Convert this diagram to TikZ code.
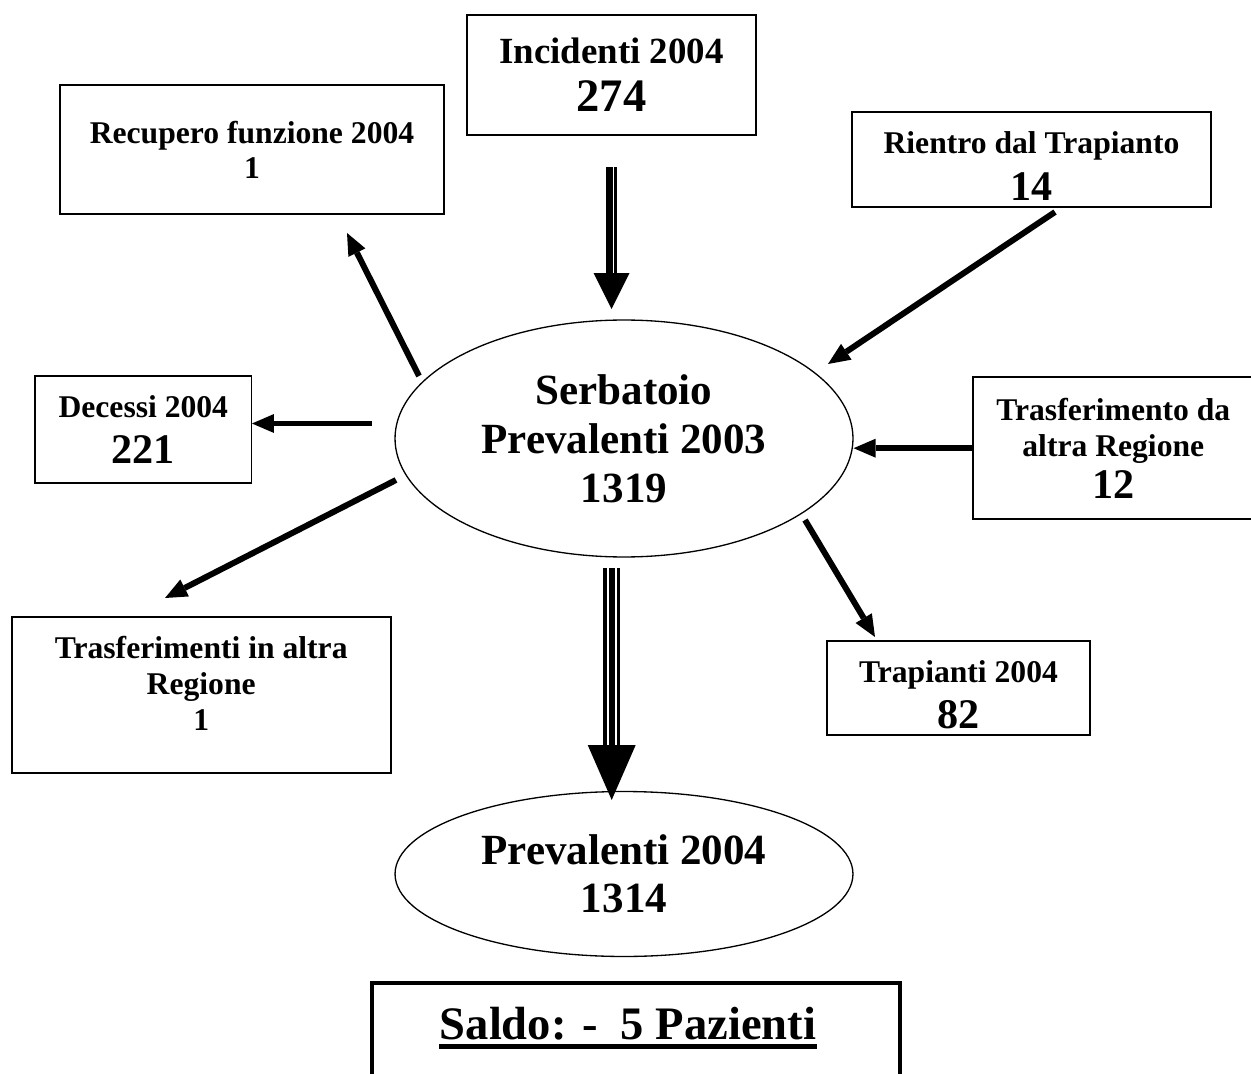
\documentclass[tikz,border=0pt]{standalone}
\usepackage{fontspec}
\setmainfont{Liberation Serif}
\usepackage{tikz}
\usetikzlibrary{arrows.meta,calc,shapes.geometric}
\newcommand{\ftS}{\fontsize{18}{21}\selectfont}
\newcommand{\ftM}{\fontsize{21}{25}\selectfont}
\newcommand{\ftN}{\fontsize{24}{28}\selectfont}
\newcommand{\ftE}{\fontsize{24.5}{28}\selectfont}
\newcommand{\ftL}{\fontsize{26.5}{30}\selectfont}
\tikzset{%
	process/.style  = {draw, rectangle, line width=1.1pt, inner sep=0pt, align=center, font=\bfseries\ftS},
	pool/.style     = {draw, ellipse, line width=0.75pt, inner sep=0pt, align=center, minimum width=9.16cm, font=\bfseries\ftE},
	saldobox/.style = {draw, rectangle, line width=2.4pt, minimum width=10.56cm, minimum height=3cm},
	arrow/.style    = {line width=3.4pt, -{Triangle[length=0.44cm, width=0.38cm, line width=0pt]}},
	gap/.style      = {white, line cap=butt},
}

\begin{document}
\begin{tikzpicture}[x=0.02cm, y=-0.02cm]
	\clip (0,0) rectangle (1251,1074);
	% stocks
	\node[pool, minimum height=4.74cm] (serb) at (624,438.5) {Serbatoio\\Prevalenti 2003\\1319};
	\node[pool, minimum height=3.3cm] (prev) at (624,874) {Prevalenti 2004\\[-0.5pt]1314};
	
	% flows in and out
	\node[process, minimum width=5.78cm, minimum height=2.4cm, font=\bfseries\ftM] (inc) at (611.5,75) {Incidenti 2004\\[2.5pt]{\ftL 274}};
	\node[process, minimum width=7.68cm, minimum height=2.58cm] (rec) at (252,149.5) {Recupero funzione 2004\\[-1pt]1};
	\node[process, minimum width=7.18cm, minimum height=1.9cm] (rien) at (1031.5,159.5) {\\[-1pt]Rientro dal Trapianto\\[6pt]{\ftN 14}};
	\node[process, minimum width=4.33cm, minimum height=2.13cm] (dec) at (143.3,429.3) {Decessi 2004\\[5pt]{\ftN 221}};
	\node[process, minimum width=5.63cm, minimum height=2.85cm] (trda) at (1113.3,448.2) {Trasferimento da\\altra Regione\\[2.7pt]{\ftN 12}};
	\node[process, minimum width=5.26cm, minimum height=1.88cm] (trap) at (958.5,688) {\\[-1pt]Trapianti 2004\\[5pt]{\ftN 82}};
	\node[process, minimum width=7.58cm, minimum height=3.13cm] (trin) at (201.2,695) {Trasferimenti in altra\\Regione\\[-1pt]1\\[-7.3pt]\mbox{}};
	
	\node[saldobox] (saldo) at (636,1058) {};
	\node[anchor=base, inner sep=0pt, font=\bfseries\ftL] (saldotxt) at (628,1039.3) {Saldo: -~~5 Pazienti};
	\draw[line width=2.7pt] ($(saldotxt.base west)+(0,7.4)$) -- ($(saldotxt.base east)+(0,7.4)$); % underline
	
	% arrow ends
	\coordinate (recA) at (419,376);
	\coordinate (recB) at (347,233);
	\coordinate (rienA) at (1055,212);
	\coordinate (rienB) at (828,364);
	\coordinate (decA) at (372,423.5);
	\coordinate (decB) at (252,423.5);
	\coordinate (trinA) at (396,480);
	\coordinate (trinB) at (165,598);
	\coordinate (trapA) at (805,520);
	\coordinate (trapB) at (875,637);
	\coordinate (incA) at (611.5,167);
	\coordinate (incB) at (611.5,309);
	\coordinate (prvA) at (611.7,568);
	\coordinate (prvB) at (611.7,800);
	
	\draw[arrow] (recA) -- (recB);
	\draw[arrow] (rienA) -- (rienB);
	\draw[arrow] (decA) -- (decB);
	\draw[arrow] (trda.west) -- (trda.west -| serb.east);
	\draw[arrow] (trinA) -- (trinB);
	\draw[arrow] (trapA) -- (trapB);
	
	% double and triple shafts
	\draw[line width=6.26pt, -{Triangle[length=0.72cm, width=0.72cm, line width=0pt]}] (incA) -- (incB);
	\draw[gap, line width=0.7pt] ($(incA)+(2,0)$) -- ($(incB)+(2,-36)$);
	\draw[line width=9.5pt, -{Triangle[length=1.1cm, width=0.96cm, line width=0pt]}] (prvA) -- (prvB);
	\draw[gap, line width=1.14pt] ($(prvA)+(-4,0)$) -- ($(prvB)+(-4,-55)$);
	\draw[gap, line width=1.14pt] ($(prvA)+(4,0)$) -- ($(prvB)+(4,-55)$);
\end{tikzpicture}
\end{document}
